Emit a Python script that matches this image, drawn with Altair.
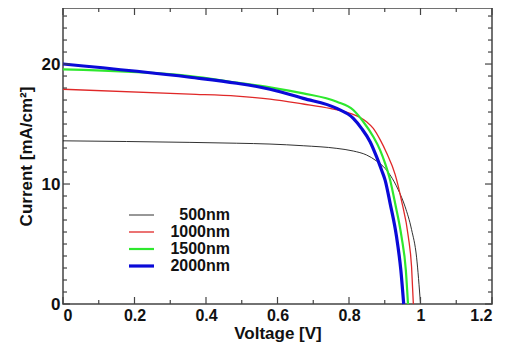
import altair as alt
import pandas as pd

series = ["500nm", "1000nm", "1500nm", "2000nm"]

v_500 = [0.0, 0.355, 0.486, 0.579, 0.672, 0.766, 0.812, 0.849, 0.877, 0.901, 0.915, 0.938, 0.957, 0.975, 0.989, 1.0]
j_500 = [13.6, 13.47, 13.4, 13.33, 13.19, 12.97, 12.75, 12.42, 11.92, 11.3, 10.75, 9.5, 8.1, 6.2, 3.9, 0.0]

v_1000 = [0.0, 0.355, 0.486, 0.579, 0.672, 0.747, 0.803, 0.849, 0.868, 0.887, 0.905, 0.929, 0.947, 0.966, 0.975, 0.980]
j_1000 = [17.9, 17.5, 17.33, 17.08, 16.67, 16.3, 15.89, 15.19, 14.64, 13.7, 12.6, 10.8, 8.6, 5.6, 3.1, 0.0]

v_1500 = [0.0, 0.355, 0.486, 0.579, 0.672, 0.766, 0.812, 0.840, 0.868, 0.887, 0.901, 0.915, 0.929, 0.947, 0.959, 0.965]
j_1500 = [19.55, 19.0, 18.45, 18.06, 17.56, 16.86, 16.17, 15.19, 13.94, 12.83, 11.72, 10.33, 8.39, 5.6, 2.83, 0.0]

v_2000 = [0.0, 0.355, 0.486, 0.579, 0.672, 0.766, 0.812, 0.835, 0.859, 0.877, 0.891, 0.901, 0.915, 0.933, 0.945, 0.953]
j_2000 = [20.0, 18.9, 18.4, 17.9, 17.14, 16.3, 15.47, 14.64, 13.53, 12.28, 11.17, 10.33, 8.39, 5.6, 2.83, 0.0]

x_major = [0, 0.2, 0.4, 0.6, 0.8, 1.0, 1.2]
x_minor = [0.1, 0.3, 0.5, 0.7, 0.9, 1.1]
y_labels = [0, 10, 20]
y_major = [0, 10, 20]
y_minor = [i for i in range(1, 25) if i % 10 != 0]

colors = ["#1a1a1a", "#e02828", "#2ee82e", "#0a0ad8"]
widths = [0.9, 1.3, 2.2, 3.2]

W, H = 429, 296
FONT = "Liberation Sans"
FS = 17

rows = []
for name, vs, js in [("500nm", v_500, j_500), ("1000nm", v_1000, j_1000),
                     ("1500nm", v_1500, j_1500), ("2000nm", v_2000, j_2000)]:
    for i, (v, j) in enumerate(zip(vs, js)):
        rows.append({"V": v, "J": j, "series": name, "idx": i})
df = pd.DataFrame(rows)

xscale = alt.Scale(domain=[0, 1.2], nice=False, zero=False)
yscale = alt.Scale(domain=[0, 24.67], nice=False, zero=False)

xaxis = alt.Axis(values=x_major, format="~g", title="Voltage [V]",
                 ticks=False, domain=False, grid=False,
                 labelFontSize=16, titleFontSize=FS,
                 labelPadding=3, titlePadding=2)
yaxis = alt.Axis(values=y_labels, format="d", title="Current [mA/cm²]",
                 ticks=False, domain=False, grid=False,
                 labelFontSize=FS, titleFontSize=FS,
                 labelPadding=3, titlePadding=6)

leg = alt.Legend(title=None, orient="none", legendX=64, legendY=199,
                 symbolType="stroke", symbolSize=625,
                 clipHeight=16, rowPadding=1, labelOffset=74, labelAlign="right")

lines = alt.Chart(df).mark_line(interpolate="monotone").encode(
    x=alt.X("V:Q", scale=xscale, axis=xaxis),
    y=alt.Y("J:Q", scale=yscale, axis=yaxis),
    color=alt.Color("series:O", sort=series,
                    scale=alt.Scale(domain=series, range=colors), legend=leg),
    strokeWidth=alt.StrokeWidth("series:O", sort=series,
                                scale=alt.Scale(type="ordinal", domain=series, range=widths),
                                legend=leg),
    order="idx:Q",
)

def xticks(vals, length, top):
    d = pd.DataFrame({"V": vals})
    if top:
        yy, yy2 = 0, length
    else:
        yy, yy2 = H, H - length
    return alt.Chart(d).mark_rule(color="#444", strokeWidth=1.2).encode(
        x=alt.X("V:Q", scale=xscale, axis=xaxis),
        y=alt.value(yy), y2=alt.value(yy2))

def yticks(vals, length, left):
    d = pd.DataFrame({"J": vals})
    if left:
        xx, xx2 = 0, length
    else:
        xx, xx2 = W, W - length
    return alt.Chart(d).mark_rule(color="#444", strokeWidth=1.2).encode(
        y=alt.Y("J:Q", scale=yscale, axis=yaxis),
        x=alt.value(xx), x2=alt.value(xx2))

ticks = [
    xticks(x_major, 7, False), xticks(x_minor, 4, False),
    xticks(x_major, 7, True), xticks(x_minor, 4, True),
    yticks(y_major, 7, True), yticks(y_minor, 4, True),
    yticks(y_major, 7, False), yticks(y_minor, 4, False),
]

chart = alt.layer(lines, *ticks).properties(
    width=W, height=H,
    autosize=alt.AutoSizeParams(type="none"),
    padding={"left": 55, "top": 0, "right": 10, "bottom": 40},
).configure_view(
    stroke="#444", strokeWidth=1.5
).configure_axis(
    labelFont=FONT, labelFontWeight="bold", labelColor="#111",
    titleFont=FONT, titleFontWeight="bold", titleColor="#111",
).configure_legend(
    labelFont=FONT, labelFontSize=16, labelFontWeight="bold", labelColor="#111",
    padding=0,
)

chart.save("out.html", embed_options={"renderer": "svg", "actions": False})
